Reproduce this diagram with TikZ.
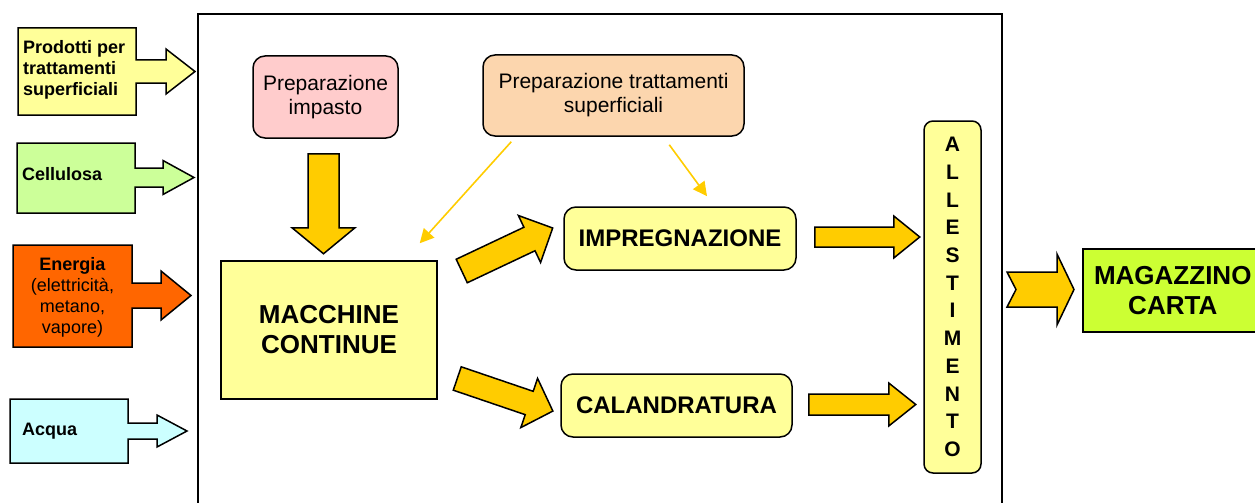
\documentclass[tikz,border=0pt]{standalone}
\usepackage{fontspec}
\setmainfont{Liberation Sans}
\usetikzlibrary{arrows.meta,calc}

\definecolor{paleyellow}{HTML}{FFFF99}
\definecolor{palegreen}{HTML}{CCFF99}
\definecolor{energyorange}{HTML}{FF6600}
\definecolor{palecyan}{HTML}{CCFFFF}
\definecolor{palepink}{HTML}{FFCCCC}
\definecolor{paleorange}{HTML}{FCD6AE}
\definecolor{gold}{HTML}{FFCC00}
\definecolor{lime}{HTML}{CCFF33}

\tikzset{
  outline/.style={draw=black, line width=1.5pt, line join=miter},
  inputlabel/.style={font=\bfseries\fontsize{18}{21}\selectfont, align=left, inner sep=0pt, anchor=west},
  procbox/.style={draw=black, line width=1.5pt, rounded corners=12pt, inner sep=0pt},
  prepfont/.style={font=\fontsize{21}{24}\selectfont, align=center},
  stagefont/.style={font=\bfseries\fontsize{24}{28}\selectfont, align=center},
  bigfont/.style={font=\bfseries\fontsize{26}{30}\selectfont, align=center},
  bigarrow/.style={draw=black, fill=gold, line width=1.5pt, line join=miter},
  thinarrow/.style={draw=gold, line width=1.6pt, -{Triangle[length=14pt,width=14pt]}},
  pics/blockarrow/.style n args={4}{code={
    % length, shaft width, head width, head length
    \path[bigarrow] (0,-#2/2) -- ({#1-#4},-#2/2) -- ({#1-#4},-#3/2) -- (#1,0)
      -- ({#1-#4},#3/2) -- ({#1-#4},#2/2) -- (0,#2/2) -- cycle;
  }}
}

\begin{document}
\begin{tikzpicture}[x=1pt,y=-1pt]
\useasboundingbox (0,0) rectangle (1255,503);

% plant boundary
\draw[line width=2pt] (198,503) -- (198,14) -- (1002,14) -- (1002,503);

% ---- inputs (box + arrow callouts) ----
\path[outline, fill=paleyellow] (18,28) -- (136,28) -- (136,60) -- (166,60) -- (166,49)
  -- (195,71.5) -- (166,94) -- (166,83) -- (136,83) -- (136,115) -- (18,115) -- cycle;
\node[inputlabel] (prodotti) at (23,70) {Prodotti per\\trattamenti\\superficiali};

\path[outline, fill=palegreen] (17,143) -- (135,143) -- (135,168) -- (163,168) -- (163,160.5)
  -- (194,177.5) -- (163,194.5) -- (163,187) -- (135,187) -- (135,213) -- (17,213) -- cycle;
\node[inputlabel] (cellulosa) at (22,174) {Cellulosa};

\path[outline, fill=energyorange] (13,245) -- (132,245) -- (132,283) -- (161,283) -- (161,271)
  -- (191,295.5) -- (161,320) -- (161,308) -- (132,308) -- (132,347) -- (13,347) -- cycle;
\node[inputlabel, font=\fontsize{18}{21}\selectfont, anchor=center, align=center] (energia) at (72.5,297)
  {\textbf{Energia}\\(elettricità,\\metano,\\vapore)};

\path[outline, fill=palecyan] (10,399) -- (128,399) -- (128,423) -- (157,423) -- (157,415)
  -- (187,431) -- (157,447) -- (157,439) -- (128,439) -- (128,463) -- (10,463) -- cycle;
\node[inputlabel] (acqua) at (22,431) {Acqua};

% ---- preparation steps ----
\node[procbox, fill=palepink, minimum width=145pt, minimum height=82pt, prepfont]
  (impasto) at (325.5,97) {Preparazione\\impasto};
\node[procbox, fill=paleorange, minimum width=261pt, minimum height=81pt, prepfont]
  (tratt) at (613.5,95.5) {Preparazione trattamenti\\superficiali};

% ---- paper machines and finishing ----
\node[draw=black, line width=1.5pt, fill=paleyellow, minimum width=216pt, minimum height=138pt,
  inner sep=0pt, bigfont] (macchine) at (329,330) {MACCHINE\\CONTINUE};
\node[procbox, fill=paleyellow, minimum width=232pt, minimum height=63pt, stagefont]
  (impregnazione) at (680,238.5) {IMPREGNAZIONE};
\node[procbox, fill=paleyellow, minimum width=231pt, minimum height=63pt, stagefont]
  (calandratura) at (676.5,405.5) {CALANDRATURA};
\node[procbox, rounded corners=9pt, fill=paleyellow, minimum width=57pt, minimum height=352pt,
  font=\bfseries\fontsize{21}{27.7}\selectfont, align=center]
  (allestimento) at (952.5,297) {A\\L\\L\\E\\S\\T\\I\\M\\E\\N\\T\\O};

% ---- warehouse ----
\node[draw=black, line width=1.5pt, fill=lime, minimum width=180pt, minimum height=83pt,
  inner sep=0pt, anchor=west, bigfont, text width=170pt] (magazzino) at (1082,290.5)
  {MAGAZZINO\\CARTA};

% ---- treatment supply lines ----
\draw[thinarrow] ($(tratt.south west)+(29,5)$) -- ($(macchine.north east)+(-18,-17)$);
\draw[thinarrow] ($(tratt.south west)+(187,8)$) -- ($(impregnazione.north)+(27,-10)$);

% ---- main flow block arrows ----
\pic[rotate=-90] at ($(impasto.south)+(-2,15)$) {blockarrow={100}{31}{63}{26}};
\pic[rotate=25.3] at ($(macchine.east)+(24,-59)$) {blockarrow={100.6}{26}{52}{25.7}};
\pic[rotate=-18.8] at ($(macchine.east)+(19.5,48.5)$) {blockarrow={101}{24.7}{52}{25}};
\pic at ($(impregnazione.east)+(18,-1.5)$) {blockarrow={105}{20}{42}{26}};
\pic at ($(calandratura.east)+(16,-1)$) {blockarrow={107}{21}{43}{27}};

% notched arrow into the warehouse
\path[bigarrow] (1007,272) -- (1057,272) -- (1057,254) -- (1074,289.5) -- (1057,325)
  -- (1057,307) -- (1007,307) -- (1016,289.5) -- cycle;
\end{tikzpicture}
\end{document}
